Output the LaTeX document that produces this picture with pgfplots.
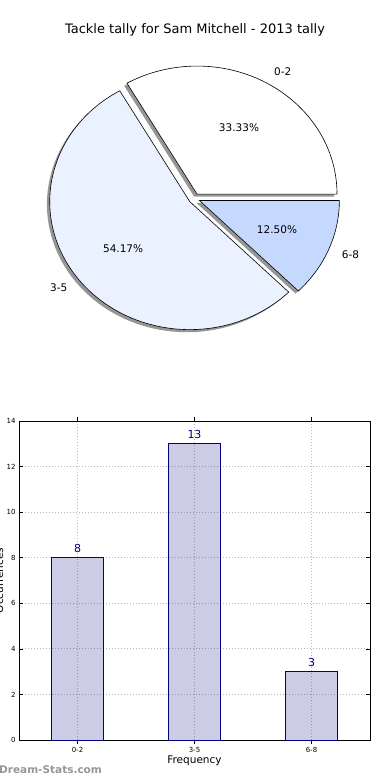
\documentclass[border=0pt]{standalone}
\usepackage{fontspec}
\setmainfont{DejaVu Sans}
\usepackage{pgfplots}
\usepackage{pgfplotstable}
\pgfplotsset{compat=1.18}
\definecolor{navyc}{RGB}{0,0,128}
\definecolor{pieA}{RGB}{255,255,255}
\definecolor{pieB}{RGB}{234,241,255}
\definecolor{pieC}{RGB}{197,217,255}
\definecolor{shadowc}{RGB}{150,150,150}
\definecolor{wmark}{RGB}{150,150,150}

\pgfplotstableread{
idx label count
0 0-2 8
1 3-5 13
2 6-8 3
}\tally

% pie geometry (1 axis unit = 1pt)
\def\cx{194.2}
\def\cy{581.5}
\def\rx{140}
\def\ry{128}

\newcommand\pv[2]{\csname p#1#2\endcsname}
\newcommand\pieCalc[4]{% name, start, end, count
  \pgfmathsetmacro\tmpmid{(#2+#3)/2}%
  \expandafter\edef\csname pS#1\endcsname{#2}%
  \expandafter\edef\csname pE#1\endcsname{#3}%
  \pgfmathsetmacro\tmp{\cx+0.04*\rx*cos(\tmpmid)}\expandafter\let\csname pX#1\endcsname\tmp
  \pgfmathsetmacro\tmp{\cy+0.04*\ry*sin(\tmpmid)}\expandafter\let\csname pY#1\endcsname\tmp
  \pgfmathsetmacro\tmp{\pv{X}{#1}-2.8}\expandafter\let\csname pSX#1\endcsname\tmp
  \pgfmathsetmacro\tmp{\pv{Y}{#1}-2.6}\expandafter\let\csname pSY#1\endcsname\tmp
  \pgfmathsetmacro\tmp{\pv{X}{#1}+1.1*\rx*cos(\tmpmid)}\expandafter\let\csname pLX#1\endcsname\tmp
  \pgfmathsetmacro\tmp{\pv{Y}{#1}+1.1*\ry*sin(\tmpmid)}\expandafter\let\csname pLY#1\endcsname\tmp
  \pgfmathsetmacro\tmp{\pv{X}{#1}+0.6*\rx*cos(\tmpmid)}\expandafter\let\csname pQX#1\endcsname\tmp
  \pgfmathsetmacro\tmp{\pv{Y}{#1}+0.6*\ry*sin(\tmpmid)}\expandafter\let\csname pQY#1\endcsname\tmp
  \pgfmathsetmacro\tmp{100*#4/\total}\expandafter\let\csname pP#1\endcsname\tmp
}

\pgfplotstablegetelem{0}{count}\of\tally \edef\ca{\pgfplotsretval}
\pgfplotstablegetelem{1}{count}\of\tally \edef\cb{\pgfplotsretval}
\pgfplotstablegetelem{2}{count}\of\tally \edef\cc{\pgfplotsretval}
\pgfmathsetmacro\total{\ca+\cb+\cc}
\pgfmathsetmacro\angA{360*\ca/\total}
\pgfmathsetmacro\angB{\angA+360*\cb/\total}
\pieCalc{A}{0}{\angA}{\ca}
\pieCalc{B}{\angB}{360}{\cc}
\pieCalc{M}{\angA}{\angB}{\cb}

\newcommand\pct[1]{\pgfmathprintnumber[fixed,fixed zerofill,precision=2,assume math mode=true]{\pv{P}{#1}}\%}

\newcommand\pieShadow[1]{%
  \fill[shadowc] (axis cs:\pv{SX}{#1},\pv{SY}{#1}) -- ++(\pv{S}{#1}:\rx pt and \ry pt)
    arc[start angle=\pv{S}{#1}, end angle=\pv{E}{#1}, x radius=\rx pt, y radius=\ry pt] -- cycle;}
\newcommand\pieWedge[2]{%
  \filldraw[fill=#2, draw=black, line width=0.6pt, line join=miter] (axis cs:\pv{X}{#1},\pv{Y}{#1}) -- ++(\pv{S}{#1}:\rx pt and \ry pt)
    arc[start angle=\pv{S}{#1}, end angle=\pv{E}{#1}, x radius=\rx pt, y radius=\ry pt] -- cycle;}

\begin{document}
\begin{tikzpicture}
% ---------- pie ----------
\begin{axis}[
  at={(0pt,0pt)}, anchor=south west,
  scale only axis, width=390pt, height=780pt,
  xmin=0, xmax=390, ymin=0, ymax=780,
  hide axis, clip=false]
  \pieShadow{A}
  \pieShadow{M}
  \pieShadow{B}
  \pieWedge{A}{pieA}
  \pieWedge{M}{pieB}
  \pieWedge{B}{pieC}
  \node[font=\fontsize{10.5}{12}\selectfont, anchor=west, inner sep=0pt] at (axis cs:\pv{LX}{A},\pv{LY}{A}) {0-2};
  \node[font=\fontsize{10.5}{12}\selectfont, anchor=east, inner sep=0pt] at (axis cs:\pv{LX}{M},\pv{LY}{M}) {3-5};
  \node[font=\fontsize{10.5}{12}\selectfont, anchor=west, inner sep=0pt] at (axis cs:\pv{LX}{B},\pv{LY}{B}) {6-8};
  \node[font=\fontsize{10.5}{12}\selectfont, inner sep=0pt] at (axis cs:\pv{QX}{A},\pv{QY}{A}) {\pct{A}};
  \node[font=\fontsize{10.5}{12}\selectfont, inner sep=0pt] at (axis cs:\pv{QX}{M},\pv{QY}{M}) {\pct{M}};
  \node[font=\fontsize{10.5}{12}\selectfont, inner sep=0pt] at (axis cs:\pv{QX}{B},\pv{QY}{B}) {\pct{B}};
  \node[font=\fontsize{13}{15}\selectfont, inner sep=0pt] at (axis cs:195,750) {Tackle tally for Sam Mitchell - 2013 tally};
  \node[font=\bfseries\fontsize{10.5}{12}\selectfont, text=wmark, anchor=west, inner sep=0pt] at (axis cs:-1,10) {Dream-Stats.com};
\end{axis}
% ---------- bars ----------
\begin{axis}[
  at={(19pt,40pt)}, anchor=south west,
  scale only axis, width=351pt, height=319pt,
  xmin=-0.5, xmax=2.5, ymin=0, ymax=14,
  xtick={0,1,2}, xticklabels={0-2,3-5,6-8},
  ytick={0,2,...,14},
  /pgf/number format/assume math mode=true,
  tick label style={font=\fontsize{7}{8}\selectfont},
  tick align=inside, major tick length=4pt,
  tick style={black, line width=0.5pt},
  axis line style={black, line width=0.8pt},
  grid=major,
  grid style={gray!55, line width=0.8pt, dash pattern=on 1pt off 2pt},
  xlabel={Frequency},
  xlabel style={font=\fontsize{10.5}{12}\selectfont, yshift=4pt},
  ybar, bar width=52pt, bar shift=0pt,
  nodes near coords,
  nodes near coords style={font=\fontsize{11}{12}\selectfont, text=navyc, inner sep=0pt, anchor=south, yshift=5pt},
  clip=false]
  \addplot[fill=navyc, fill opacity=0.2, draw=navyc, line width=0.8pt, draw opacity=1, text opacity=1] table[x=idx, y=count] {\tally};
  \node[rotate=90, anchor=base, font=\fontsize{10.5}{12}\selectfont, inner sep=0pt] at ([xshift=-16pt]rel axis cs:0,0.5) {Occurrences};
\end{axis}
\pgfresetboundingbox
\useasboundingbox (0,0) rectangle (390pt,780pt);
\end{tikzpicture}
\end{document}
